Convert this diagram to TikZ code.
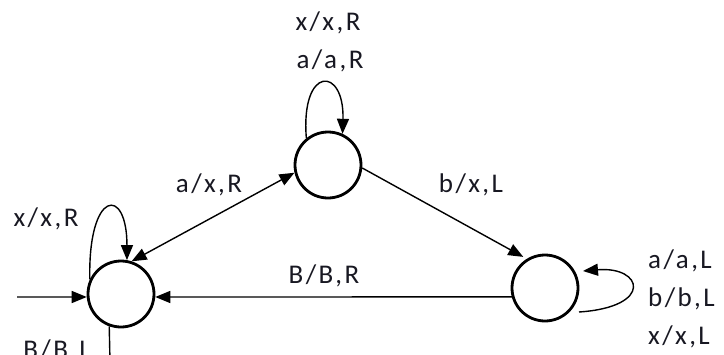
\documentclass[tikz,border=0pt]{standalone}
\usepackage{fontspec}
\setmainfont[LetterSpace=9]{Carlito}
\usepackage{tikz}
\usetikzlibrary{arrows.meta}
\definecolor{tmtext}{RGB}{24,24,34}

\begin{document}
\begin{tikzpicture}[x=1pt,y=-1pt,font=\fontsize{27}{30}\selectfont,
    stnode/.style={circle,draw,line width=2.8pt,minimum size=66pt,inner sep=0pt},
    lbl/.style={text=tmtext,anchor=base,inner sep=0pt},
    arr/.style={line width=1.4pt,-{Triangle[length=15pt,width=12pt]}},
    biarr/.style={line width=1.4pt,{Triangle[length=15pt,width=12pt]}-{Triangle[length=15pt,width=12pt]}}]
    \useasboundingbox (0,0) rectangle (724,354);
    \clip (0,0) rectangle (724,354);
    % states
    \node[stnode] (q0) at (121,294) {};
    \node[stnode] (q1) at (328,165) {};
    \node[stnode] (q2) at (545,288) {};
    \coordinate (start) at (17,297);
    \coordinate (exit) at (110,362);
    % transitions
    \draw[arr] (start) -- (q0.185);
    \draw[arr] (q0.155) .. controls +(-2,-90) and +(0,-75) .. (q0.80);
    \draw[biarr] (q0.72) -- (q1.193);
    \draw[arr] (q1.129) .. controls +(-6,-73) and +(2,-68) .. (q1.65);
    \draw[arr,shorten >=4pt] (q1.355) -- (q2.122);
    \draw[arr] ([shift={(34,24)}]q2.center) .. controls +(75,-5) and +(60,-5) .. ([shift={(38,-17)}]q2.center);
    \draw[arr] (q2.195) -- (q0.355);
    \draw[line width=1.4pt] (q0.250) -- (exit);
    % labels
    \node[lbl] (t0) at (46,226) {x/x,R};
    \node[lbl] (t1) at (209,192) {a/x,R};
    \node[lbl] (t2) at (328,30) {x/x,R};
    \node[lbl] (t3) at (330,68) {a/a,R};
    \node[lbl] (t4) at (471,192) {b/x,L};
    \node[lbl] (t5) at (324,283) {B/B,R};
    \node[lbl,anchor=base west] (t6) at (648,268) {a/a,L};
    \node[lbl,anchor=base west] (t7) at (648,306) {b/b,L};
    \node[lbl,anchor=base west] (t8) at (648,344) {x/x,L};
    \node[lbl] (t9) at (57,358) {B/B,L};
  \end{tikzpicture}
\end{document}
